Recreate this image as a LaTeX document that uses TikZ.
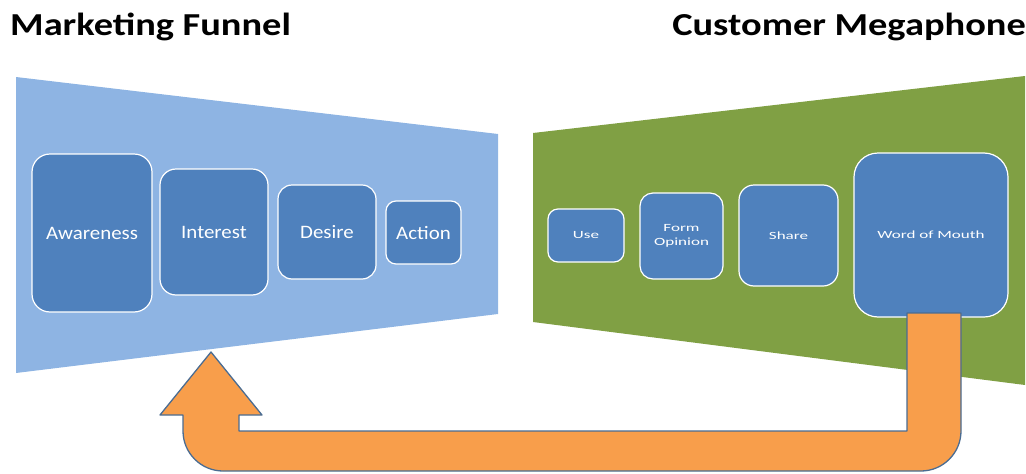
\documentclass[tikz,border=0pt]{standalone}
\usepackage{fontspec}
\setmainfont{Carlito}
\newfontfamily\headfont[FakeStretch=1.2]{Carlito}
\newfontfamily\stagefont[FakeStretch=1.1]{Carlito}
\newfontfamily\tinyfont[FakeStretch=1.55]{Carlito}
\definecolor{funnelblue}{RGB}{142,180,227}
\definecolor{boxblue}{RGB}{79,129,189}
\definecolor{megagreen}{RGB}{128,160,68}
\definecolor{looporange}{RGB}{248,158,75}
\definecolor{loopedge}{RGB}{74,108,146}

\begin{document}
\begin{tikzpicture}[x=1pt, y=-1pt,
	heading/.style={inner sep=0pt, font=\headfont\bfseries\fontsize{32}{36}\selectfont},
	stage/.style={draw=white, line width=1.2pt, fill=boxblue, text=white, inner sep=0pt, font=\stagefont\fontsize{19}{22}\selectfont},
	talk/.style={stage, align=center, font=\tinyfont\fontsize{11}{14}\selectfont}]
	\useasboundingbox (0,0) rectangle (1026,474);

	\node[heading, anchor=base west] (funnel) at (10,35) {Marketing Funnel};
	\node[heading, anchor=base east] (megaphone) at (1026,35) {Customer Megaphone};

	\fill[funnelblue] (16,77) -- (498,134) -- (498,314) -- (16,373) -- cycle;
	\fill[megagreen] (533,133) -- (1025,76) -- (1025,385) -- (533,322) -- cycle;

	\node[stage, rounded corners=18pt, minimum width=120pt, minimum height=158pt] (awareness) at (92,233) {Awareness};
	\node[stage, rounded corners=16pt, minimum width=108pt, minimum height=126pt] (interest) at (214,232) {Interest};
	\node[stage, rounded corners=14pt, minimum width=98pt, minimum height=94pt] (desire) at (327,232) {Desire};
	\node[stage, rounded corners=10pt, minimum width=75pt, minimum height=63pt] (action) at (423.5,232.5) {Action};

	\node[talk, rounded corners=10pt, minimum width=76pt, minimum height=53pt] (use) at (586,235.5) {Use};
	\node[talk, rounded corners=13pt, minimum width=83pt, minimum height=86pt] (opinion) at (681.5,236) {Form\\Opinion};
	\node[talk, rounded corners=15pt, minimum width=99pt, minimum height=101pt] (share) at (788.5,235.5) {Share};
	\node[talk, rounded corners=24pt, minimum width=154pt, minimum height=164pt] (mouth) at (931,235) {Word of Mouth};

	\draw[fill=looporange, draw=loopedge, line width=1.3pt, line join=round]
		(907,313) -- (961,313) -- (961,431)
		.. controls (961,453) and (943,471) .. (921,471) -- (223,471)
		.. controls (201,471) and (183,453) .. (183,431) -- (183,415) -- (160,415)
		-- (211,352) -- (262,415) -- (239,415) -- (239,431) -- (907,431) -- cycle;
\end{tikzpicture}
\end{document}
